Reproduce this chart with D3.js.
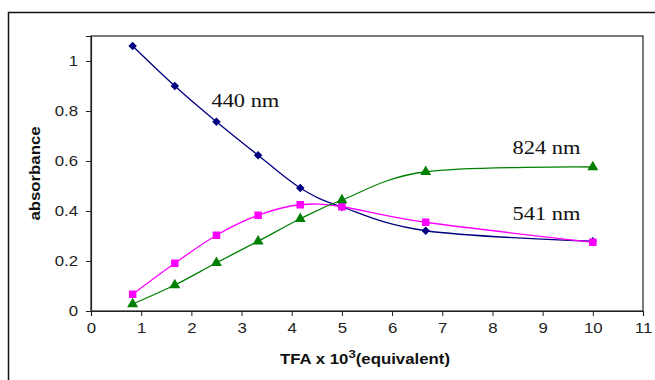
<!DOCTYPE html>
<html>
<head>
<meta charset="utf-8">
<script src="https://cdn.jsdelivr.net/npm/d3@7"></script>
<style>
  html, body { margin: 0; padding: 0; background: #fff; }
  svg { display: block; }
</style>
</head>
<body>
<svg id="chart" width="655" height="380"></svg>
<script>
// TFA equivalents (x 10^3) at which absorbance was measured
const tfa = [0.83, 1.67, 2.5, 3.33, 4.17, 5, 6.67, 10];
// absorbance at each wavelength
const abs440 = [1.06, 0.90, 0.757, 0.623, 0.492, 0.416, 0.321, 0.279];
const abs541 = [0.067, 0.191, 0.303, 0.383, 0.425, 0.417, 0.355, 0.275];
const abs824 = [0.028, 0.104, 0.193, 0.279, 0.369, 0.444, 0.557, 0.576];
const xTicks = [0, 1, 2, 3, 4, 5, 6, 7, 8, 9, 10, 11];
const yTicks = [0, 0.2, 0.4, 0.6, 0.8, 1];
const seriesNames = ["440 nm", "541 nm", "824 nm"];

const svg = d3.select("#chart");
const plot = { left: 91, top: 36, right: 643, bottom: 311 };
const sans = "Arial, 'Liberation Sans', sans-serif";
const serif = "'Times New Roman', 'Liberation Serif', serif";
const stretch = 1.2;   // horizontally widened lettering

const x = d3.scaleLinear().domain([0, 11]).range([plot.left, plot.right]);
const y = d3.scaleLinear().domain([0, 1.1]).range([plot.bottom, plot.top]);

// outer frame
svg.append("rect")
  .attr("x", 8.5).attr("y", 12.5).attr("width", 700).attr("height", 400)
  .attr("fill", "none").attr("stroke", "#111").attr("stroke-width", 1.5);

// plot area border
svg.append("rect")
  .attr("x", plot.left).attr("y", plot.top)
  .attr("width", plot.right - plot.left).attr("height", plot.bottom - plot.top)
  .attr("fill", "none").attr("stroke", "#222").attr("stroke-width", 1.2);

// axes
const xAxis = svg.append("g")
  .attr("transform", `translate(0,${plot.bottom})`)
  .call(d3.axisBottom(x).tickValues(xTicks).tickFormat(d3.format("d")).tickSizeOuter(0).tickSize(5).tickPadding(7));
const yAxis = svg.append("g")
  .attr("transform", `translate(${plot.left},0)`)
  .call(d3.axisLeft(y).tickValues(yTicks).tickFormat(d => d === 0 ? "0" : String(+d.toFixed(1))).tickSizeOuter(0).tickSize(5).tickPadding(8));

[xAxis, yAxis].forEach(g => {
  g.select(".domain").attr("stroke", "#222").attr("stroke-width", 1.2);
  g.selectAll(".tick line").attr("stroke", "#222");
  g.selectAll(".tick text")
    .attr("font-family", sans)
    .attr("font-size", 14).attr("fill", "#222");
});
xAxis.selectAll(".tick text").attr("transform", `scale(${stretch},1)`);
yAxis.selectAll(".tick text").each(function () {
  const t = d3.select(this);
  const tx = +t.attr("x");
  t.attr("x", 0).attr("transform", `translate(${tx},0) scale(${stretch},1)`);
});

// markers: Excel-style diamond (rotated square), square, triangle
const diamond = {
  draw(ctx, size) {
    const r = Math.sqrt(size / 2);
    ctx.moveTo(0, -r); ctx.lineTo(r, 0); ctx.lineTo(0, r); ctx.lineTo(-r, 0); ctx.closePath();
  }
};

const series = [
  { name: seriesNames[0], values: abs440, color: "#000080", marker: diamond, size: 36 },
  { name: seriesNames[1], values: abs541, color: "#ff00ff", marker: d3.symbolSquare, size: 56 },
  { name: seriesNames[2], values: abs824, color: "#008000", marker: d3.symbolTriangle, size: 52 }
];

const line = d3.line()
  .x(d => x(d[0]))
  .y(d => y(d[1]))
  .curve(d3.curveCardinal.tension(0));

series.forEach(s => {
  const pts = tfa.map((t, i) => [t, s.values[i]]);
  svg.append("path")
    .datum(pts)
    .attr("d", line)
    .attr("fill", "none")
    .attr("stroke", s.color)
    .attr("stroke-width", 1.3);
});

series.forEach(s => {
  const pts = tfa.map((t, i) => [t, s.values[i]]);
  svg.append("g").selectAll("path")
    .data(pts)
    .join("path")
    .attr("transform", d => `translate(${x(d[0])},${y(d[1])})`)
    .attr("d", d3.symbol().type(s.marker).size(s.size))
    .attr("fill", s.color);
});

// series labels
const labels = [
  { text: seriesNames[0], tx: 2.4, ty: 0.815 },
  { text: seriesNames[2], tx: 8.4, ty: 0.627 },
  { text: seriesNames[1], tx: 8.4, ty: 0.364 }
];
svg.append("g").selectAll("text")
  .data(labels)
  .join("text")
  .attr("transform", d => `translate(${x(d.tx)},${y(d.ty)}) scale(1.15,1)`)
  .attr("font-family", serif)
  .attr("font-size", 19.5)
  .attr("fill", "#111")
  .text(d => d.text);

// axis titles
const xt = svg.append("text")
  .attr("transform", `translate(${(plot.left + plot.right) / 2 - 2},364) scale(${stretch},1)`)
  .attr("text-anchor", "middle")
  .attr("font-family", sans)
  .attr("font-weight", "bold")
  .attr("font-size", 14)
  .attr("fill", "#111");
xt.append("tspan").text("TFA x 10");
xt.append("tspan").attr("dy", -6).attr("font-size", 11).text("3");
xt.append("tspan").attr("dy", 6).text("(equivalent)");

svg.append("text")
  .attr("transform", `translate(40,${(plot.top + plot.bottom) / 2}) rotate(-90) scale(${stretch},1)`)
  .attr("text-anchor", "middle")
  .attr("font-family", sans)
  .attr("font-weight", "bold")
  .attr("font-size", 14)
  .attr("fill", "#111")
  .text("absorbance");
</script>
</body>
</html>
